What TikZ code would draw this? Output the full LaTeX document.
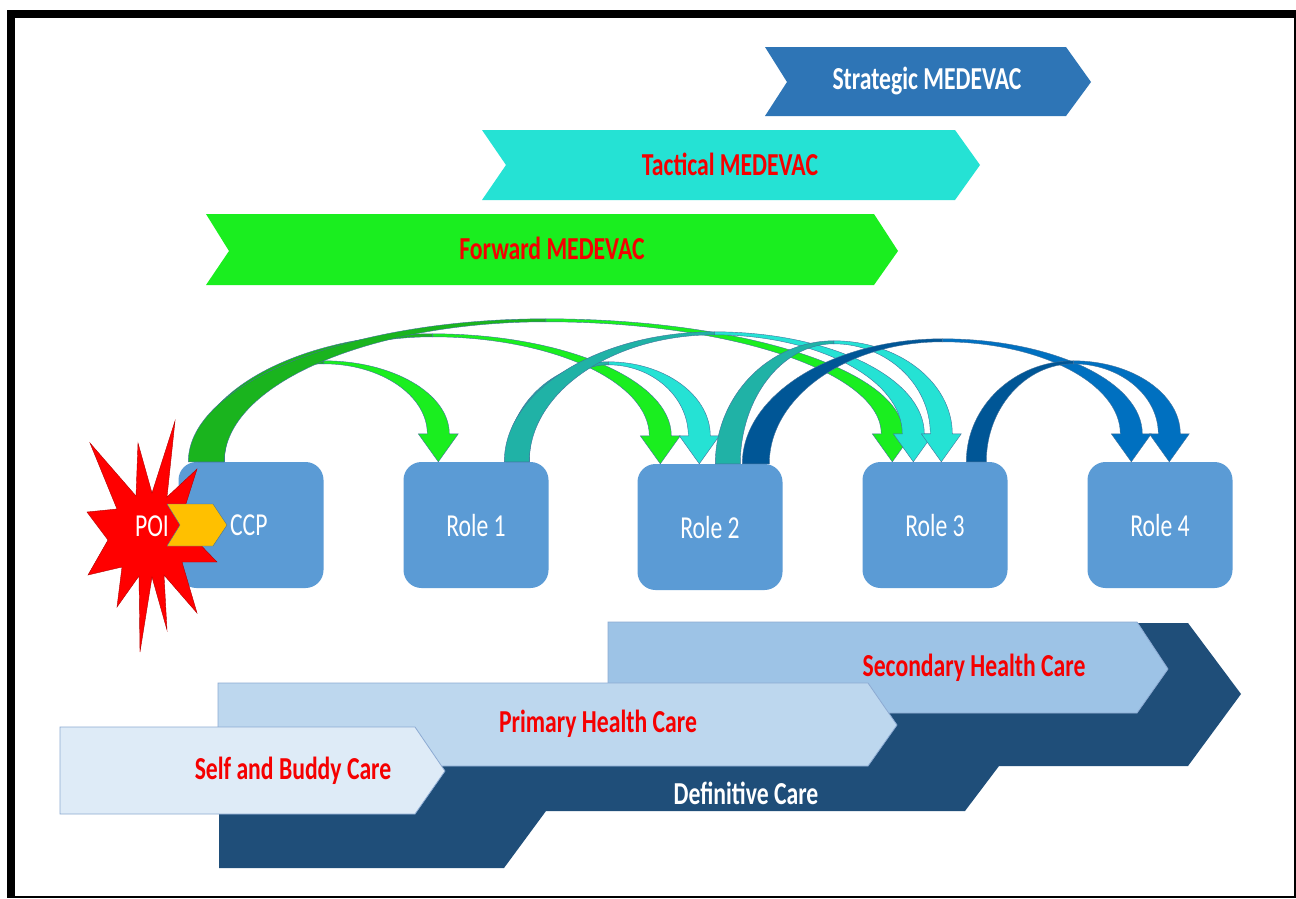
\documentclass[tikz,border=0pt]{standalone}
\usepackage{fontspec,graphicx}
\setmainfont{Carlito}
\usetikzlibrary{calc}

\definecolor{boxblue}{RGB}{91,155,213}
\definecolor{stratblue}{RGB}{46,117,182}
\definecolor{tactcyan}{RGB}{37,226,212}
\definecolor{fwdgreen}{RGB}{26,238,31}
\definecolor{backgreen}{RGB}{26,180,30}
\definecolor{backteal}{RGB}{32,178,166}
\definecolor{frontblue}{RGB}{0,112,192}
\definecolor{backblue}{RGB}{0,86,150}
\definecolor{secblue}{RGB}{157,195,230}
\definecolor{priblue}{RGB}{189,215,238}
\definecolor{selfblue}{RGB}{222,235,247}
\definecolor{defblue}{RGB}{31,78,121}
\definecolor{poiorange}{RGB}{255,192,0}
\definecolor{edgeblue}{RGB}{65,113,156}
\definecolor{lightedge}{RGB}{140,170,210}
\definecolor{labelred}{RGB}{245,0,0}

\newcommand{\slim}[1]{\scalebox{0.74}[1]{#1}}

% #1 foot, #2 foot width, #3 tip, #4 rise, #5 back colour, #6 front colour
\newcommand{\bendarrow}[6]{%
  \filldraw[fill=#5, draw=edgeblue, line width=0.4pt]
    let \p1=(#1), \p2=(#3), \n1={(\x1+\x2+11pt)/2}, \n2={\y1+#4pt} in
    (\x1,\y1) .. controls (\x1,{\y1+0.55*#4pt}) and ({\n1-0.55*(\n1-\x1)},\n2) .. (\n1,\n2)
    -- (\n1,{\n2-3pt}) .. controls ({\n1-0.55*(\n1-\x1-#2pt)},{\n2-3pt}) and ({\x1+#2pt},{\y1+0.55*(#4pt-3pt)}) .. ({\x1+#2pt},\y1) -- cycle;
  \filldraw[fill=#6, draw=edgeblue, line width=0.4pt]
    let \p1=(#1), \p2=(#3), \n1={(\x1+\x2+11pt)/2}, \n2={\y1+#4pt} in
    (\n1,\n2) .. controls ({\n1+0.55*(\x2+11pt-\n1)},\n2) and ({\x2+11pt},{\y2+28pt+0.55*(\n2-\y2-28pt)}) .. ({\x2+11pt},{\y2+28pt})
    -- ({\x2+20pt},{\y2+28pt}) -- (\x2,\y2) -- ({\x2-20pt},{\y2+28pt}) -- ({\x2-11pt},{\y2+28pt})
    .. controls ({\x2-11pt},{\y2+28pt+0.55*(\n2-3pt-\y2-28pt)}) and ({\n1+0.55*(\x2-11pt-\n1)},{\n2-3pt}) .. (\n1,{\n2-3pt}) -- cycle;
}

\begin{document}
\begin{tikzpicture}[x=1pt, y=-1pt,
    role/.style={fill=boxblue, rounded corners=18pt, minimum width=145pt, minimum height=126pt,
      text=white, font=\fontsize{32}{36}\selectfont},
    tag/.style={inner sep=0pt, font=\bfseries\fontsize{32}{36}\selectfont},
    band/.style={draw=lightedge, line width=0.8pt}]
  \useasboundingbox (0,0) rectangle (1296,898);

  % frame
  \fill[black] (7,10) rectangle (1296,898);
  \fill[white] (15,18) rectangle (1294,896);

  % evacuation chevrons
  \fill[stratblue] (765,47) -- (1066,47) -- (1091,82) -- (1066,116) -- (765,116) -- (787,82) -- cycle;
  \fill[tactcyan] (482,130) -- (955,130) -- (980,165) -- (955,200) -- (482,200) -- (506,165) -- cycle;
  \fill[fwdgreen] (206,214) -- (874,214) -- (898,251) -- (874,285) -- (206,285) -- (229,251) -- cycle;
  \node[tag, text=white] (strat) at (927,81) {\slim{Strategic MEDEVAC}};
  \node[tag, text=labelred] (tact) at (730,164) {\slim{Tactical MEDEVAC}};
  \node[tag, text=labelred] (fwd) at (552,248) {\slim{Forward MEDEVAC}};

  % care levels
  \node[role] (ccp) at (251,525) {\slim{\hspace*{-6pt}CCP}};
  \node[role] (role1) at (476,525) {\slim{Role 1}};
  \node[role] (role2) at (710,527) {\slim{Role 2}};
  \node[role] (role3) at (935,525) {\slim{Role 3}};
  \node[role] (role4) at (1160,525) {\slim{Role 4}};

  % forward
  \bendarrow{[xshift=20pt]ccp.north west}{26}{[xshift=35pt]role1.north west}{101}{backgreen}{fwdgreen}
  \bendarrow{[xshift=15pt]ccp.north west}{31}{[xshift=23pt]role2.north west}{128}{backgreen}{fwdgreen}
  \bendarrow{[xshift=10pt]ccp.north west}{36}{[xshift=30pt]role3.north west}{143}{backgreen}{fwdgreen}
  % tactical
  \bendarrow{[xshift=103pt]role1.north west}{23}{[xshift=62pt]role2.north west}{100}{backteal}{tactcyan}
  \bendarrow{[xshift=101pt]role1.north west}{25}{[xshift=51pt]role3.north west}{130}{backteal}{tactcyan}
  \bendarrow{[xshift=78pt]role2.north west}{25}{[xshift=79pt]role3.north west}{123}{backteal}{tactcyan}
  % strategic
  \bendarrow{[xshift=105pt]role2.north west}{27}{[xshift=44pt]role4.north west}{125}{backblue}{frontblue}
  \bendarrow{[xshift=104pt]role3.north west}{20}{[xshift=82pt]role4.north west}{101}{backblue}{frontblue}

  % point of injury
  \filldraw[fill=red, draw=red!70!black, line width=0.4pt]
    (138,443) -- (152,493) -- (175,421) -- (167,497) -- (197,469) -- (184,510) -- (216,511)
    -- (192,536) -- (217,562) -- (182,562) -- (197,613) -- (164,575) -- (167,630) -- (152,577)
    -- (140,652) -- (139,576) -- (117,607) -- (122,567) -- (88,575) -- (108,540) -- (87,512)
    -- (117,509) -- (90,443) -- (136,496) -- cycle;
  \filldraw[fill=poiorange, draw=edgeblue, line width=0.4pt]
    (167,504) -- (213,504) -- (227,525) -- (213,546) -- (167,546) -- (180,525) -- cycle;
  \node[text=white, font=\fontsize{32}{36}\selectfont, inner sep=0pt] (poi) at (152,526) {\slim{POI}};

  % health care
  \fill[defblue] (219,868) -- (219,720) -- (700,720) -- (700,623) -- (1188,623) -- (1241,694)
    -- (1188,766) -- (999,766) -- (965,811) -- (546,811) -- (504,868) -- cycle;
  \filldraw[band, fill=secblue] (608,622) -- (1137,622) -- (1168,669) -- (1137,713) -- (608,713) -- cycle;
  \filldraw[band, fill=priblue] (218,683) -- (868,683) -- (897,725) -- (868,766) -- (218,766) -- cycle;
  \filldraw[band, fill=selfblue] (60,727) -- (415,727) -- (445,771) -- (415,814) -- (60,814) -- cycle;
  \node[tag, text=labelred] (secondary) at (974,668) {\slim{Secondary Health Care}};
  \node[tag, text=labelred] (primary) at (598,724) {\slim{Primary Health Care}};
  \node[tag, text=labelred] (selfcare) at (293,771) {\slim{Self and Buddy Care}};
  \node[tag, text=white] (definitive) at (746,793) {\slim{Definitive Care}};
\end{tikzpicture}
\end{document}
